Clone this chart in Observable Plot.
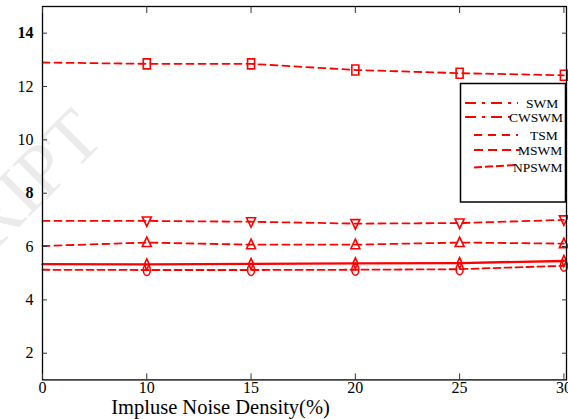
<!DOCTYPE html>
<html>
<head>
<meta charset="utf-8">
<script src="https://cdn.jsdelivr.net/npm/d3@7"></script>
<script src="https://cdn.jsdelivr.net/npm/@observablehq/plot@0.6"></script>
<style>
  html, body { margin: 0; padding: 0; background: white; }
  #wrap { position: relative; width: 568px; height: 419px; overflow: hidden; background: white; }
  #wm, #chart, #legend { position: absolute; left: 0; top: 0; }
  #legend { pointer-events: none; }
</style>
</head>
<body>
<div id="wrap">
  <svg id="wm" width="568" height="419"></svg>
  <div id="chart"></div>
  <svg id="legend" width="568" height="419"></svg>
</div>
<script>
// ---- data ----
const densityLabels = ["0", "10", "15", "20", "25", "30"];
const squareVals   = [12.90, 12.85, 12.85, 12.62, 12.50, 12.42];
const downTriVals  = [6.96, 6.96, 6.93, 6.86, 6.88, 7.00];
const upTriVals    = [6.02, 6.15, 6.07, 6.07, 6.15, 6.11];
const solidVals    = [5.34, 5.33, 5.35, 5.37, 5.38, 5.46];
const circleVals   = [5.13, 5.12, 5.12, 5.13, 5.15, 5.28];
const legendNames  = ["SWM", "CWSWM", "TSM", "MSWM", "NPSWM"];
const yTicks = [2, 4, 6, 8, 10, 12, 14];
const yBold = [8, 14];
const xTitle = "Impluse Noise Density(%)";

const red = "#ff0000";
const serif = "'Liberation Serif', 'Times New Roman', serif";
const idx = densityLabels.map((_, i) => i);

// watermark (background decoration)
d3.select("#wm").append("text").attr("transform", "translate(106,140) rotate(-45)")
  .attr("text-anchor", "end").attr("font-family", serif).attr("font-size", 74)
  .attr("fill", "#ebebeb").text("MANUSCRIPT");

// custom stretched symbols
const tallRect = { draw(ctx) { ctx.rect(-3.5, -5, 7, 10); } };
const tallEllipse = { draw(ctx) {
  const rx = 3.5, ry = 5.5, k = 0.5523;
  ctx.moveTo(0, -ry);
  ctx.bezierCurveTo(rx * k, -ry, rx, -ry * k, rx, 0);
  ctx.bezierCurveTo(rx, ry * k, rx * k, ry, 0, ry);
  ctx.bezierCurveTo(-rx * k, ry, -rx, ry * k, -rx, 0);
  ctx.bezierCurveTo(-rx, -ry * k, -rx * k, -ry, 0, -ry);
  ctx.closePath();
} };
const triUp = { draw(ctx) { ctx.moveTo(0, -5.5); ctx.lineTo(4.5, 4); ctx.lineTo(-4.5, 4); ctx.closePath(); } };
const triDown = { draw(ctx) { ctx.moveTo(0, 5.5); ctx.lineTo(4.5, -4); ctx.lineTo(-4.5, -4); ctx.closePath(); } };
const tallDiamond = { draw(ctx) { ctx.moveTo(0, -5.5); ctx.lineTo(2.5, 0); ctx.lineTo(0, 5.5); ctx.lineTo(-2.5, 0); ctx.closePath(); } };

const series = [
  { vals: squareVals, dash: "7,5", sym: tallRect },
  { vals: downTriVals, dash: "7,5", sym: triDown },
  { vals: upTriVals, dash: "7,5", sym: triUp },
  { vals: solidVals, dash: null, sym: tallDiamond, width: 2.4 },
  { vals: circleVals, dash: "7,4", sym: tallEllipse }
];

const marks = [];
for (const s of series) {
  const rows = s.vals.map((v, i) => ({ i, v }));
  marks.push(Plot.line(rows, { x: "i", y: "v", stroke: red, strokeWidth: s.width || 1.8,
    strokeDasharray: s.dash || undefined }));
  marks.push(Plot.dot(rows.filter(d => d.i > 0), { x: "i", y: "v", symbol: () => s.sym, r: 4,
    stroke: red, strokeWidth: 1.6, fill: "none" }));
}
marks.push(Plot.frame({ stroke: "black", strokeWidth: 1.3 }));
// inward tick marks on all four sides
marks.push(Plot.axisY({ ticks: yTicks, anchor: "left", tickSize: -5, text: null, label: null, stroke: "#333" }));
marks.push(Plot.axisY({ ticks: yTicks, anchor: "right", tickSize: -5, text: null, label: null, stroke: "#333" }));
marks.push(Plot.axisX({ ticks: idx, anchor: "bottom", tickSize: -6, text: null, label: null, stroke: "#333" }));
marks.push(Plot.axisX({ ticks: idx, anchor: "top", tickSize: -6, text: null, label: null, stroke: "#333" }));
// labels
marks.push(Plot.axisY({ ticks: yTicks.filter(t => !yBold.includes(t)), anchor: "left", tickSize: 0, tickPadding: 9,
  label: null, fontSize: 16, fontFamily: serif }));
marks.push(Plot.axisY({ ticks: yBold, anchor: "left", tickSize: 0, tickPadding: 9, label: null,
  fontWeight: "bold", fontSize: 16, fontFamily: serif }));
marks.push(Plot.axisX({ ticks: idx, anchor: "bottom", tickSize: 0, tickPadding: 1.5, label: null, fontSize: 16,
  fontFamily: serif, tickFormat: i => densityLabels[i] }));
marks.push(Plot.text([xTitle], { frameAnchor: "bottom", dx: -84, dy: 20,
  lineAnchor: "top", fontSize: 20.5, fontFamily: serif, fill: "black" }));

const chart = Plot.plot({
  width: 568, height: 419,
  marginLeft: 42, marginRight: 2, marginTop: 6, marginBottom: 39.6,
  x: { domain: [0, 5.025] },
  y: { domain: [1, 15] },
  style: { fontFamily: serif, background: "transparent", color: "black", overflow: "visible" },
  marks
});
document.getElementById("chart").appendChild(chart);

// ---- legend box ----
const lg = d3.select("#legend");
lg.append("rect").attr("x", 460.5).attr("y", 83.5).attr("width", 105).attr("height", 118.5)
  .attr("fill", "white").attr("stroke", "black").attr("stroke-width", 1.5);
const legendStyle = [
  { y: 103, x1: 465, x2: 518, dash: "11,6,3,6", tx: 526 },
  { y: 117, x1: 465, x2: 515, dash: "11,6,3,6", tx: 509 },
  { y: 135, x1: 474, x2: 518, dash: "8,6", tx: 530 },
  { y: 150, x1: 474, x2: 520, dash: "9,5", tx: 518 },
  { y: 167.5, x1: 474, x2: 515, dash: "8,3", tx: 513, y2: 165 }
];
legendNames.forEach((name, i) => {
  const st = legendStyle[i];
  lg.append("line").attr("x1", st.x1).attr("x2", st.x2).attr("y1", st.y).attr("y2", st.y2 || st.y)
    .attr("stroke", red).attr("stroke-width", 2).attr("stroke-dasharray", st.dash);
  lg.append("text").attr("x", st.tx).attr("y", st.y + 4.5).text(name)
    .attr("font-family", serif).attr("font-size", 13.5).attr("fill", "black");
});
</script>
</body>
</html>
